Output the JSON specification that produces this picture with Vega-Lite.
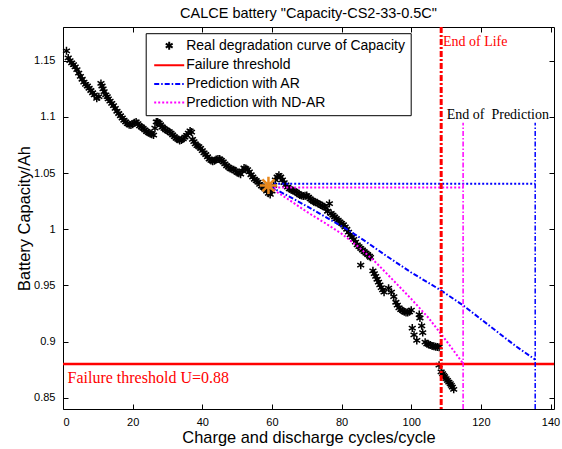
{
  "$schema": "https://vega.github.io/schema/vega-lite/v6.json",
  "width": 491,
  "height": 382,
  "autosize": {"type": "none"},
  "padding": {"left": 63, "top": 27, "right": 8, "bottom": 40},
  "background": "white",
  "title": {"text": "CALCE battery \"Capacity-CS2-33-0.5C\"", "font": "Liberation Sans", "fontSize": 14.5, "fontWeight": "normal", "color": "#000000", "anchor": "middle", "offset": 4},
  "config": {
    "view": {"stroke": null},
    "axis": {"grid": false, "domainColor": "#000000", "domainWidth": 1, "tickColor": "#000000", "tickWidth": 1, "labelColor": "#000000", "labelFont": "Liberation Sans", "labelFontSize": 11, "titleFont": "Liberation Sans", "titleFontWeight": "normal", "titleColor": "#000000"},
    "legend": {"orient": "none", "legendX": 82.7, "legendY": 6.2, "strokeColor": "#000000", "fillColor": "#FFFFFF", "padding": 5.5, "labelFont": "Liberation Sans", "labelFontSize": 14, "labelColor": "#000000", "labelLimit": 0, "symbolSize": 100, "symbolStrokeWidth": 2, "symbolOffset": 11, "labelOffset": 10, "rowPadding": 4.6}
  },
  "datasets": {
    "real": [
      {"x":1,"y":1.1588},{"x":1.5,"y":1.1525},{"x":2,"y":1.15},{"x":2.5,"y":1.148},{"x":3,"y":1.1465},{"x":3.5,"y":1.1445},{"x":4,"y":1.142},{"x":4.5,"y":1.139},{"x":5,"y":1.136},{"x":5.5,"y":1.1335},{"x":6,"y":1.131},{"x":6.5,"y":1.129},{"x":7,"y":1.1275},{"x":7.5,"y":1.1255},{"x":8,"y":1.1235},{"x":8.5,"y":1.1215},{"x":9,"y":1.1195},{"x":9.7,"y":1.1165},{"x":10.3,"y":1.118},{"x":10.9,"y":1.1298},{"x":11.2,"y":1.1275},{"x":11.5,"y":1.125},{"x":11.8,"y":1.1225},{"x":12.3,"y":1.1195},{"x":12.7,"y":1.118},{"x":13,"y":1.116},{"x":13.5,"y":1.114},{"x":14,"y":1.112},{"x":14.5,"y":1.11},{"x":15,"y":1.1075},{"x":15.5,"y":1.105},{"x":16,"y":1.103},{"x":16.5,"y":1.101},{"x":17,"y":1.099},{"x":17.5,"y":1.097},{"x":18,"y":1.0955},{"x":18.5,"y":1.094},{"x":19,"y":1.093},{"x":19.5,"y":1.0928},{"x":20,"y":1.0935},{"x":20.5,"y":1.0948},{"x":21,"y":1.0955},{"x":21.5,"y":1.094},{"x":22,"y":1.092},{"x":22.5,"y":1.091},{"x":23,"y":1.0898},{"x":23.5,"y":1.0885},{"x":24,"y":1.087},{"x":24.5,"y":1.086},{"x":25,"y":1.0852},{"x":25.5,"y":1.0845},{"x":26,"y":1.0838},{"x":26.4,"y":1.09},{"x":26.8,"y":1.0955},{"x":27.2,"y":1.0955},{"x":27.6,"y":1.0945},{"x":28,"y":1.093},{"x":28.5,"y":1.091},{"x":29,"y":1.0898},{"x":29.5,"y":1.0885},{"x":30,"y":1.0875},{"x":30.5,"y":1.0868},{"x":31,"y":1.0855},{"x":31.5,"y":1.084},{"x":32,"y":1.0825},{"x":32.5,"y":1.081},{"x":33,"y":1.08},{"x":33.5,"y":1.079},{"x":34,"y":1.0795},{"x":34.5,"y":1.0805},{"x":35,"y":1.082},{"x":35.5,"y":1.0835},{"x":36,"y":1.0855},{"x":36.5,"y":1.0875},{"x":36.9,"y":1.0865},{"x":37.2,"y":1.08},{"x":37.6,"y":1.078},{"x":38,"y":1.076},{"x":38.5,"y":1.0745},{"x":39,"y":1.0735},{"x":39.5,"y":1.072},{"x":40,"y":1.07},{"x":40.5,"y":1.068},{"x":41,"y":1.0665},{"x":41.5,"y":1.0645},{"x":42,"y":1.0625},{"x":42.5,"y":1.0612},{"x":43,"y":1.0605},{"x":43.5,"y":1.061},{"x":44,"y":1.062},{"x":44.5,"y":1.0625},{"x":45,"y":1.0625},{"x":45.5,"y":1.0612},{"x":46,"y":1.06},{"x":46.5,"y":1.0582},{"x":47,"y":1.0565},{"x":47.5,"y":1.0552},{"x":48,"y":1.054},{"x":48.5,"y":1.0535},{"x":49,"y":1.053},{"x":49.5,"y":1.052},{"x":50,"y":1.0505},{"x":50.5,"y":1.0498},{"x":51,"y":1.049},{"x":51.5,"y":1.052},{"x":52,"y":1.0545},{"x":52.5,"y":1.054},{"x":53,"y":1.053},{"x":53.5,"y":1.051},{"x":54,"y":1.0485},{"x":54.5,"y":1.0465},{"x":55,"y":1.0445},{"x":55.5,"y":1.0432},{"x":56,"y":1.042},{"x":56.5,"y":1.04},{"x":57,"y":1.0385},{"x":57.5,"y":1.0372},{"x":58,"y":1.036},{"x":58.5,"y":1.034},{"x":59,"y":1.032},{"x":59.5,"y":1.031},{"x":60,"y":1.034},{"x":60.5,"y":1.039},{"x":61,"y":1.044},{"x":61.5,"y":1.0465},{"x":62,"y":1.048},{"x":62.5,"y":1.0465},{"x":63,"y":1.044},{"x":63.5,"y":1.0415},{"x":64,"y":1.0395},{"x":64.5,"y":1.0375},{"x":65,"y":1.036},{"x":65.5,"y":1.0352},{"x":66,"y":1.0345},{"x":66.5,"y":1.0338},{"x":67,"y":1.033},{"x":67.5,"y":1.0318},{"x":68,"y":1.0305},{"x":68.5,"y":1.03},{"x":69,"y":1.0295},{"x":69.5,"y":1.0298},{"x":70,"y":1.03},{"x":70.5,"y":1.0285},{"x":71,"y":1.027},{"x":71.5,"y":1.0258},{"x":72,"y":1.0245},{"x":72.5,"y":1.024},{"x":73,"y":1.0235},{"x":73.5,"y":1.0225},{"x":74,"y":1.0215},{"x":74.5,"y":1.0208},{"x":75,"y":1.02},{"x":75.5,"y":1.019},{"x":76,"y":1.016},{"x":76.5,"y":1.0228},{"x":77,"y":1.014},{"x":77.5,"y":1.0125},{"x":78,"y":1.011},{"x":78.5,"y":1.0095},{"x":79,"y":1.008},{"x":79.5,"y":1.0065},{"x":80,"y":1.0052},{"x":80.5,"y":1.004},{"x":81,"y":1.002},{"x":81.5,"y":1.0},{"x":82,"y":0.9975},{"x":82.5,"y":0.995},{"x":83,"y":0.993},{"x":83.5,"y":0.991},{"x":84,"y":0.9885},{"x":84.5,"y":0.986},{"x":85,"y":0.9845},{"x":85.5,"y":0.983},{"x":86,"y":0.9815},{"x":86.5,"y":0.98},{"x":87,"y":0.9788},{"x":87.5,"y":0.9775},{"x":88,"y":0.976},{"x":88.3,"y":0.975},{"x":85.5,"y":0.968},{"x":89,"y":0.963},{"x":89.4,"y":0.9605},{"x":89.8,"y":0.958},{"x":90.2,"y":0.9555},{"x":90.6,"y":0.953},{"x":91,"y":0.9505},{"x":91.4,"y":0.948},{"x":91.8,"y":0.946},{"x":92.2,"y":0.944},{"x":93.5,"y":0.9475},{"x":94.3,"y":0.944},{"x":95,"y":0.94},{"x":95.6,"y":0.935},{"x":96,"y":0.9325},{"x":96.5,"y":0.93},{"x":97,"y":0.9285},{"x":97.5,"y":0.9275},{"x":98,"y":0.9265},{"x":98.5,"y":0.926},{"x":99,"y":0.926},{"x":99.5,"y":0.9265},{"x":100,"y":0.928},{"x":102.3,"y":0.924},{"x":102.5,"y":0.921},{"x":100.3,"y":0.912},{"x":100.8,"y":0.906},{"x":101.6,"y":0.901},{"x":103,"y":0.914},{"x":103.3,"y":0.908},{"x":104,"y":0.8995},{"x":104.5,"y":0.898},{"x":105,"y":0.8975},{"x":105.5,"y":0.897},{"x":106,"y":0.896},{"x":106.5,"y":0.8958},{"x":107,"y":0.8955},{"x":107.5,"y":0.8952},{"x":108,"y":0.895},{"x":108,"y":0.879},{"x":108.6,"y":0.873},{"x":109,"y":0.8715},{"x":109.3,"y":0.87},{"x":109.6,"y":0.8688},{"x":110,"y":0.867},{"x":110.4,"y":0.8655},{"x":110.8,"y":0.864},{"x":111.2,"y":0.8625},{"x":111.5,"y":0.861},{"x":111.8,"y":0.8595},{"x":112.2,"y":0.8575}
    ],
    "pred": [
      {"s":"a","x":59.5,"y":1.038},{"s":"a","x":65,"y":1.029},{"s":"a","x":70,"y":1.0205},{"s":"a","x":75,"y":1.0115},{"s":"a","x":81,"y":1.001},{"s":"a","x":87,"y":0.989},{"s":"a","x":93,"y":0.976},{"s":"a","x":100,"y":0.9615},{"s":"a","x":108.6,"y":0.9455},{"s":"a","x":115,"y":0.932},{"s":"a","x":120,"y":0.92},{"s":"a","x":125,"y":0.908},{"s":"a","x":130,"y":0.896},{"s":"a","x":135.6,"y":0.884},
      {"s":"n","x":59.5,"y":1.037},{"s":"n","x":65,"y":1.026},{"s":"n","x":70,"y":1.0155},{"s":"n","x":75,"y":1.006},{"s":"n","x":80,"y":0.996},{"s":"n","x":85,"y":0.984},{"s":"n","x":90,"y":0.97},{"s":"n","x":95,"y":0.954},{"s":"n","x":100,"y":0.938},{"s":"n","x":105,"y":0.921},{"s":"n","x":110,"y":0.901},{"s":"n","x":114.9,"y":0.8805}
    ],
    "hlines": [{"s":"a","x":59.5,"x2":135.6,"y":1.0404},{"s":"n","x":59.5,"x2":114.9,"y":1.0371}],
    "vlines": [{"s":"a","x":135.6,"y":0.84,"y2":1.0947},{"s":"n","x":114.9,"y":0.84,"y2":1.0947}],
    "thr": [{"s":"t","y":0.88}],
    "eol": [{"x":108.6}],
    "start": [{"x":59,"y":1.039}],
    "eoltext": [{"x":109.1,"y":1.1668,"t":"End of Life"}],
    "eoptext": [{"x":110.2,"y":1.1021,"t":"End of \u00a0Prediction"}],
    "thrtext": [{"x":1.3,"y":0.8672,"t":"Failure threshold U=0.88"}]
  },
  "resolve": {"axis": {"x": "independent", "y": "independent"}},
  "layer": [
    {
      "data": {"name": "real"},
      "mark": {"type": "point", "filled": false, "size": 100, "strokeWidth": 1.5, "opacity": 1},
      "encoding": {
        "x": {"field": "x", "type": "quantitative", "scale": {"domain": [0, 141], "nice": false, "zero": false}, "axis": {"values": [0,20,40,60,80,100,120,140], "tickSize": -5, "labelPadding": 12, "title": "Charge and discharge cycles/cycle", "titleFontSize": 16.4, "titlePadding": 2}},
        "y": {"field": "y", "type": "quantitative", "scale": {"domain": [0.84, 1.18], "nice": false, "zero": false}, "axis": {"values": [0.85,0.9,0.95,1,1.05,1.1,1.15], "format": "~g", "tickSize": -5, "labelPadding": 13, "title": "Battery Capacity/Ah", "titleFontSize": 16.4, "titlePadding": 1}},
        "color": {"datum": "r", "type": "nominal", "scale": {"domain": ["r","t","a","n"], "range": ["#000000","#FF0000","#0000FF","#FF00FF"]}, "legend": {"title": null, "labelExpr": "datum.value=='r'?'Real degradation curve of Capacity':datum.value=='t'?'Failure threshold':datum.value=='a'?'Prediction with AR':'Prediction with ND-AR'"}},
        "shape": {"datum": "r", "type": "nominal", "scale": {"domain": ["r","t","a","n"], "range": ["M0,-0.8L0,0.8M-0.69,-0.4L0.69,0.4M-0.69,0.4L0.69,-0.4", "M-3,0L3,0", "M-3,0L3,0", "M-3,0L3,0"]}, "legend": {"title": null, "labelExpr": "datum.value=='r'?'Real degradation curve of Capacity':datum.value=='t'?'Failure threshold':datum.value=='a'?'Prediction with AR':'Prediction with ND-AR'"}}
      }
    },
    {
      "data": {"name": "thr"},
      "mark": {"type": "rule", "strokeWidth": 2.5},
      "encoding": {
        "y": {"field": "y", "type": "quantitative", "scale": {"domain": [0.84, 1.18], "nice": false, "zero": false}, "axis": null},
        "color": {"field": "s", "type": "nominal", "legend": {"title": null, "labelExpr": "datum.value=='r'?'Real degradation curve of Capacity':datum.value=='t'?'Failure threshold':datum.value=='a'?'Prediction with AR':'Prediction with ND-AR'"}},
        "strokeDash": {"field": "s", "type": "nominal", "scale": {"domain": ["r","t","a","n"], "range": [[1,0],[1,0],[5,2,1.5,2],[2,2]]}, "legend": {"title": null, "labelExpr": "datum.value=='r'?'Real degradation curve of Capacity':datum.value=='t'?'Failure threshold':datum.value=='a'?'Prediction with AR':'Prediction with ND-AR'"}}
      }
    },
    {
      "data": {"name": "pred"},
      "mark": {"type": "line", "strokeWidth": 2},
      "encoding": {
        "x": {"field": "x", "type": "quantitative", "scale": {"domain": [0, 141], "nice": false, "zero": false}, "axis": {"orient": "top", "values": [0,20,40,60,80,100,120,140], "tickSize": -5, "labels": false, "title": null}},
        "y": {"field": "y", "type": "quantitative", "scale": {"domain": [0.84, 1.18], "nice": false, "zero": false}, "axis": {"orient": "right", "values": [0.85,0.9,0.95,1,1.05,1.1,1.15], "tickSize": -5, "labels": false, "title": null}},
        "color": {"field": "s", "type": "nominal", "legend": {"title": null, "labelExpr": "datum.value=='r'?'Real degradation curve of Capacity':datum.value=='t'?'Failure threshold':datum.value=='a'?'Prediction with AR':'Prediction with ND-AR'"}},
        "strokeDash": {"field": "s", "type": "nominal", "legend": {"title": null, "labelExpr": "datum.value=='r'?'Real degradation curve of Capacity':datum.value=='t'?'Failure threshold':datum.value=='a'?'Prediction with AR':'Prediction with ND-AR'"}}
      }
    },
    {
      "data": {"name": "hlines"},
      "mark": {"type": "rule", "strokeWidth": 2, "strokeDash": [2, 2]},
      "encoding": {
        "x": {"field": "x", "type": "quantitative", "scale": {"domain": [0, 141], "nice": false, "zero": false}, "axis": null},
        "x2": {"field": "x2"},
        "y": {"field": "y", "type": "quantitative", "scale": {"domain": [0.84, 1.18], "nice": false, "zero": false}, "axis": null},
        "color": {"field": "s", "type": "nominal", "legend": null}
      }
    },
    {
      "data": {"name": "vlines"},
      "mark": {"type": "rule", "strokeWidth": 1.5, "strokeDash": [5, 2, 1.5, 2]},
      "encoding": {
        "x": {"field": "x", "type": "quantitative", "scale": {"domain": [0, 141], "nice": false, "zero": false}, "axis": null},
        "y": {"field": "y", "type": "quantitative", "scale": {"domain": [0.84, 1.18], "nice": false, "zero": false}, "axis": null},
        "y2": {"field": "y2"},
        "color": {"field": "s", "type": "nominal", "legend": null}
      }
    },
    {
      "data": {"name": "eol"},
      "mark": {"type": "rule", "strokeWidth": 3, "strokeDash": [6, 2, 2, 2], "color": "#FF0000"},
      "encoding": {
        "x": {"field": "x", "type": "quantitative", "scale": {"domain": [0, 141], "nice": false, "zero": false}, "axis": null}
      }
    },
    {
      "data": {"name": "start"},
      "mark": {"type": "point", "filled": false, "size": 300, "strokeWidth": 2.5, "opacity": 1, "color": "#E8891E", "shape": "M0,-1L0,1M-1,0L1,0M-0.7,-0.7L0.7,0.7M-0.7,0.7L0.7,-0.7"},
      "encoding": {
        "x": {"field": "x", "type": "quantitative", "scale": {"domain": [0, 141], "nice": false, "zero": false}, "axis": null},
        "y": {"field": "y", "type": "quantitative", "scale": {"domain": [0.84, 1.18], "nice": false, "zero": false}, "axis": null}
      }
    },
    {
      "data": {"name": "eoltext"},
      "mark": {"type": "text", "font": "Liberation Serif", "fontSize": 14, "color": "#FF0000", "align": "left", "baseline": "middle"},
      "encoding": {
        "x": {"field": "x", "type": "quantitative", "scale": {"domain": [0, 141], "nice": false, "zero": false}, "axis": null},
        "y": {"field": "y", "type": "quantitative", "scale": {"domain": [0.84, 1.18], "nice": false, "zero": false}, "axis": null},
        "text": {"field": "t"}
      }
    },
    {
      "data": {"name": "eoptext"},
      "mark": {"type": "text", "font": "Liberation Serif", "fontSize": 14, "color": "#000000", "align": "left", "baseline": "middle"},
      "encoding": {
        "x": {"field": "x", "type": "quantitative", "scale": {"domain": [0, 141], "nice": false, "zero": false}, "axis": null},
        "y": {"field": "y", "type": "quantitative", "scale": {"domain": [0.84, 1.18], "nice": false, "zero": false}, "axis": null},
        "text": {"field": "t"}
      }
    },
    {
      "data": {"name": "thrtext"},
      "mark": {"type": "text", "font": "Liberation Serif", "fontSize": 16, "color": "#FF0000", "align": "left", "baseline": "middle"},
      "encoding": {
        "x": {"field": "x", "type": "quantitative", "scale": {"domain": [0, 141], "nice": false, "zero": false}, "axis": null},
        "y": {"field": "y", "type": "quantitative", "scale": {"domain": [0.84, 1.18], "nice": false, "zero": false}, "axis": null},
        "text": {"field": "t"}
      }
    }
  ]
}
